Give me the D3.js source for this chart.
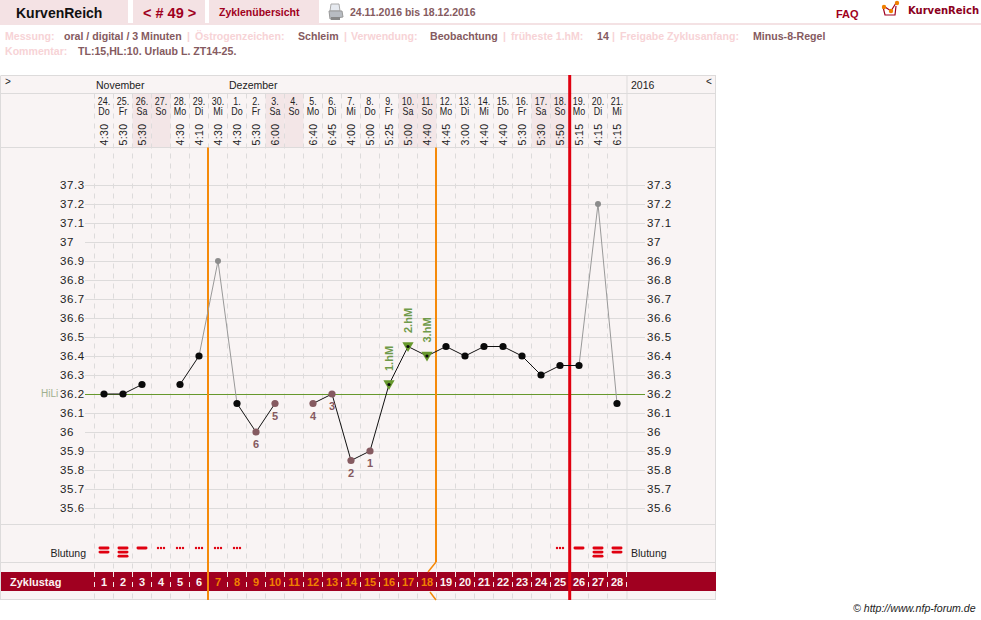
<!DOCTYPE html>
<html>
<head>
<meta charset="utf-8">
<script src="https://cdn.jsdelivr.net/npm/d3@7"></script>
<style>
body { margin:0; background:#fff; overflow:hidden; }
text { font-family:"Liberation Sans",Arial,sans-serif; }
</style>
</head>
<body>
<div id="chart"></div>
<script>
// data
var zyklustag = [1,2,3,4,5,6,7,8,9,10,11,12,13,14,15,16,17,18,19,20,21,22,23,24,25,26,27,28];
var datum = ["24.","25.","26.","27.","28.","29.","30.","1.","2.","3.","4.","5.","6.","7.","8.","9.","10.","11.","12.","13.","14.","15.","16.","17.","18.","19.","20.","21."];
var wochentag = ["Do","Fr","Sa","So","Mo","Di","Mi","Do","Fr","Sa","So","Mo","Di","Mi","Do","Fr","Sa","So","Mo","Di","Mi","Do","Fr","Sa","So","Mo","Di","Mi"];
var uhrzeit = ["4:30","5:30","5:30","","4:30","4:10","4:30","4:30","5:30","6:00","","6:40","6:45","4:00","5:00","5:25","5:00","4:40","4:45","3:00","4:40","4:40","5:30","5:30","5:50","5:15","4:15","6:15"];
var temperatur = [36.2,36.2,36.25,null,36.25,36.4,36.9,36.15,36,36.15,null,36.15,36.2,35.85,35.9,36.25,36.45,36.4,36.45,36.4,36.45,36.45,36.4,36.3,36.35,36.35,37.2,36.15];
var ausgeklammert = [6,26];
var zaehlTage = [8,9,11,12,13,14];
var zaehlLabel = ["6","5","4","3","2","1"];
var hochTage = [15,16,17];
var hochLabel = ["1.hM","2.hM","3.hM"];
var blutung = [2,3,1,0,0,0,0,0,null,null,null,null,null,null,null,null,null,null,null,null,null,null,null,null,0,1,3,2];
var tempTicks = [35.6,35.7,35.8,35.9,36,36.1,36.2,36.3,36.4,36.5,36.6,36.7,36.8,36.9,37,37.1,37.2,37.3];
var hiLi = 36.2;

var svg = d3.select("#chart").append("svg").attr("width",981).attr("height",620);

var rand = {left:94.5, right:626.5, top:147.5, bottom:524.5};
var x = d3.scaleBand().domain(d3.range(28)).range([rand.left,rand.right]);
var y = d3.scaleLinear().domain([35.6,37.3]).range([508,185]);
var cx = function(i){ return x(i)+x.bandwidth()/2; };

var rosa = "#f4e2e4", hell = "#f9f4f4", wochenendeFarbe = "#f3e6e7", linie = "#dddbdb", dunkelrot = "#a00020", braun = "#855a60", gruen = "#66982c";

// kopfzeile
var tabs = [[0,128],[133,72],[209,110]];
svg.selectAll(".tab").data(tabs).enter().append("rect").attr("class","tab")
  .attr("x",function(d){return d[0]}).attr("y",0).attr("width",function(d){return d[1]}).attr("height",23).attr("fill",rosa);
svg.append("rect").attr("x",0).attr("y",23).attr("width",981).attr("height",2).attr("fill",rosa);

function txt(s,px,py,size,col,bold,anchor){
  return svg.append("text").attr("x",px).attr("y",py).attr("font-size",size).attr("fill",col)
    .attr("font-weight",bold?"bold":"normal").attr("text-anchor",anchor||"start").text(s);
}
txt("KurvenReich",16,18,14,"#111",true);
txt("< # 49 >",143,18,14.5,dunkelrot,true);
txt("Zyklenübersicht",219,16,10.5,dunkelrot,true);
txt("24.11.2016 bis 18.12.2016",350,16,10.5,braun,true);
txt("FAQ",836,18,11,dunkelrot,true);
svg.append("text").attr("x",908).attr("y",14).attr("font-size",10).attr("fill","#8b0020").attr("font-weight","bold")
  .style("font-family","'DejaVu Sans'").text("KurvenReich");

// drucker
var drucker = svg.append("g").attr("transform","translate(328,4)");
drucker.append("path").attr("d","M3 0 L11 0 L12 7 L2 7 Z").attr("fill","#e6eaf0").attr("stroke","#aaa");
drucker.append("path").attr("d","M1 7 L14 7 L15 13 L2 15 Z").attr("fill","#b8bcc2").attr("stroke","#999");
drucker.append("rect").attr("x",3).attr("y",13).attr("width",9).attr("height",3).attr("fill","#888");

// logo
var logo = svg.append("g").attr("transform","translate(881,0)");
logo.append("path").attr("d","M2 7 L4 15 L14 15 L15 6 M4 7 L10 11 L15 3").attr("fill","none").attr("stroke","#a00020").attr("stroke-width",1.2);
logo.selectAll("circle").data([[3,7],[10,11],[16,3]]).enter().append("circle")
  .attr("cx",function(d){return d[0]}).attr("cy",function(d){return d[1]}).attr("r",2.2).attr("fill","#f08000");

// info zeilen
var hellrosa = "#f7d3d6";
[["Messung:",5,hellrosa],["oral / digital / 3 Minuten",64,braun],["|",187,hellrosa],["Östrogenzeichen:",195,hellrosa],["Schleim",298,braun],["|",344,hellrosa],["Verwendung:",351,hellrosa],["Beobachtung",430,braun],["|",503,hellrosa],["früheste 1.hM:",511,hellrosa],["14",597,braun],["|",612,hellrosa],["Freigabe Zyklusanfang:",620,hellrosa],["Minus-8-Regel",753,braun]]
  .forEach(function(d){ txt(d[0],d[1],40,10.6,d[2],true); });
txt("Kommentar:",5,55,10.6,hellrosa,true);
txt("TL:15,HL:10. Urlaub L. ZT14-25.",78,55,10.6,braun,true);

// kasten
svg.append("rect").attr("x",1).attr("y",75.5).attr("width",715).attr("height",524.5).attr("fill",hell);
svg.selectAll(".wochenende").data(d3.range(28).filter(function(i){return wochentag[i]=="Sa"||wochentag[i]=="So"})).enter().append("rect")
  .attr("class","wochenende").attr("x",function(i){return x(i)}).attr("y",93.5).attr("width",x.bandwidth()).attr("height",54).attr("fill",wochenendeFarbe);

// gestrichelte spalten
svg.selectAll(".spalte").data(d3.range(28)).enter().append("line").attr("class","spalte")
  .attr("x1",function(i){return x(i)}).attr("x2",function(i){return x(i)})
  .attr("y1",93.5).attr("y2",600).attr("stroke",linie).attr("stroke-dasharray","5,5");

// temperatur achsen
var achseL = d3.axisLeft(y).tickValues(tempTicks).tickSize(0).tickFormat(function(d){return String(d)});
var gL = svg.append("g").attr("transform","translate(60,0)").call(achseL);
gL.select(".domain").remove();
gL.selectAll("text").attr("x",0).attr("text-anchor","start").attr("font-size",11.5).attr("fill","#222").style("font-family","'Liberation Sans'").style("letter-spacing","0.6px");
var achseR = d3.axisRight(y).tickValues(tempTicks).tickSize(0).tickFormat(function(d){return String(d)});
var gR = svg.append("g").attr("transform","translate(647,0)").call(achseR);
gR.select(".domain").remove();
gR.selectAll("text").attr("x",0).attr("font-size",11.5).attr("fill","#222").style("font-family","'Liberation Sans'").style("letter-spacing","0.6px");

svg.selectAll(".gitter").data(tempTicks).enter().append("line").attr("class","gitter")
  .attr("x1",85).attr("x2",645).attr("y1",function(d){return Math.round(y(d))+.5}).attr("y2",function(d){return Math.round(y(d))+.5})
  .attr("stroke",linie);

// rahmen
[75.5,93.5,147.5,524.5,562.5,599.5].forEach(function(v){
  svg.append("line").attr("x1",1).attr("x2",716).attr("y1",v).attr("y2",v).attr("stroke",linie).attr("stroke-width",1);
});
[1,716].forEach(function(v){
  svg.append("line").attr("x1",v-.5).attr("x2",v-.5).attr("y1",75.5).attr("y2",600).attr("stroke",linie);
});
svg.append("line").attr("x1",627).attr("x2",627).attr("y1",75.5).attr("y2",600).attr("stroke",linie);

// monate usw
txt(">",5,85,10,"#222");
txt("November",96,89,10.5,"#222");
txt("Dezember",229,89,10.5,"#222");
txt("2016",631,89,10.5,"#222");
txt("<",706,85,10,"#222");

// datum + wochentag
var kopf = svg.selectAll(".kopf").data(d3.range(28)).enter().append("g").attr("class","kopf");
kopf.append("text").attr("transform",function(i){return "translate("+cx(i)+",105) scale(.85,1)"}).attr("text-anchor","middle").attr("font-size",10.5).attr("fill","#222").text(function(i){return datum[i]});
kopf.append("text").attr("transform",function(i){return "translate("+cx(i)+",115) scale(.85,1)"}).attr("text-anchor","middle").attr("font-size",10.5).attr("fill","#222").text(function(i){return wochentag[i]});
kopf.append("text").attr("transform",function(i){return "translate("+(cx(i)+3.5)+",145.5) rotate(-90)"}).attr("font-size",10.5).attr("fill","#222").style("letter-spacing","0.4px").text(function(i){return uhrzeit[i]});

// rote band
svg.append("rect").attr("x",1).attr("y",572).attr("width",715).attr("height",19).attr("fill",dunkelrot);
txt("Zyklustag",10,586,11,"#fbf2f2",true);
svg.selectAll(".tag").data(zyklustag).enter().append("text").attr("class","tag")
  .attr("x",function(d,i){return cx(i)}).attr("y",586).attr("text-anchor","middle").attr("font-size",11).attr("font-weight","bold")
  .attr("fill",function(d){return d>=7&&d<=18?"#f08000":"#fbf2f2"}).text(function(d){return d});
svg.selectAll(".tagstrich").data(d3.range(29)).enter().append("line").attr("class","tagstrich")
  .attr("x1",function(i){return i<28?x(i):rand.right}).attr("x2",function(i){return i<28?x(i):rand.right})
  .attr("y1",572).attr("y2",591).attr("stroke","#f3e6e6").attr("stroke-dasharray","5,5");

// blutung
txt("Blutung",86,557,10.5,"#222",false,"end");
txt("Blutung",631,557,10.5,"#222");
blutung.forEach(function(b,i){
  if(b===null) return;
  if(b===0){
    svg.selectAll(null).data([-3,0,3]).enter().append("circle").attr("cx",function(d){return cx(i)+d}).attr("cy",548).attr("r",1.2).attr("fill","#e00010");
  } else {
    svg.selectAll(null).data(d3.range(b)).enter().append("rect").attr("x",cx(i)-5.5).attr("y",function(d){return 546.6+d*4.1}).attr("width",11).attr("height",2.8).attr("rx",1.4).attr("fill","#e00010");
  }
});

// hilfslinie
svg.append("line").attr("x1",85).attr("x2",645).attr("y1",y(hiLi)+.5).attr("y2",y(hiLi)+.5).attr("stroke",gruen);
txt("HiLi",41,397,10,"#9fb08f");

// senkrechte linien
var orange = "#f58a0a";
svg.append("line").attr("x1",208).attr("x2",208).attr("y1",147.5).attr("y2",600).attr("stroke",orange).attr("stroke-width",2);
svg.append("line").attr("x1",436).attr("x2",436).attr("y1",147.5).attr("y2",562).attr("stroke",orange).attr("stroke-width",2);
svg.append("path").attr("d","M436 562 L428 572 M430 592 L436 600").attr("stroke",orange).attr("stroke-width",1.5).attr("fill","none");
svg.append("line").attr("x1",569.7).attr("x2",569.7).attr("y1",75).attr("y2",600).attr("stroke","#e00010").attr("stroke-width",3);

// kurve
var linien = d3.line().defined(function(d){return d.t!==null}).x(function(d){return cx(d.i)}).y(function(d){return y(d.t)});
var punkte = temperatur.map(function(t,i){return {i:i,t:t}});
// graue stuecke zu den ausgeklammerten werten
ausgeklammert.forEach(function(a){
  svg.append("path").attr("d",linien(punkte.slice(a-1,a+2))).attr("fill","none").attr("stroke","#999").attr("stroke-width",1);
});
var schwarz = punkte.map(function(p){return ausgeklammert.indexOf(p.i)>=0?{i:p.i,t:null}:p});
svg.append("path").attr("d",linien(schwarz)).attr("fill","none").attr("stroke","#111").attr("stroke-width",1);

// hochlagen dreiecke
svg.selectAll(".dreieck").data(hochTage).enter().append("path").attr("class","dreieck")
  .attr("d",d3.symbol().type(d3.symbolTriangle).size(55))
  .attr("transform",function(i){return "translate("+cx(i)+","+(y(temperatur[i])-1)+") rotate(180)"})
  .attr("fill",gruen);
svg.selectAll(".hochtext").data(hochTage).enter().append("text").attr("class","hochtext")
  .attr("transform",function(i,k){return "translate("+(cx(i)+4)+","+(y(temperatur[i])-13.5)+") rotate(-90)"})
  .attr("font-size",11).attr("font-weight","bold").attr("fill","#6f9a4a").text(function(i,k){return hochLabel[k]});

svg.selectAll(".punkt").data(punkte.filter(function(p){return p.t!==null})).enter().append("circle").attr("class","punkt")
  .attr("cx",function(d){return cx(d.i)}).attr("cy",function(d){return y(d.t)})
  .attr("r",function(d){return hochTage.indexOf(d.i)>=0?1.6:(ausgeklammert.indexOf(d.i)>=0?3:3.6)})
  .attr("fill",function(d){
    if(ausgeklammert.indexOf(d.i)>=0) return "#8c8c8c";
    if(zaehlTage.indexOf(d.i)>=0) return braun;
    return "#0a0a0a";
  });

svg.selectAll(".zaehl").data(zaehlTage).enter().append("text").attr("class","zaehl")
  .attr("x",cx).attr("y",function(i){return y(temperatur[i])+16}).attr("text-anchor","middle")
  .attr("font-size",11).attr("font-weight","bold").attr("fill",braun).text(function(i,k){return zaehlLabel[k]});

txt("© http://www.nfp-forum.de",853,612,10.6,"#222").style("font-style","italic");
</script>
</body>
</html>
